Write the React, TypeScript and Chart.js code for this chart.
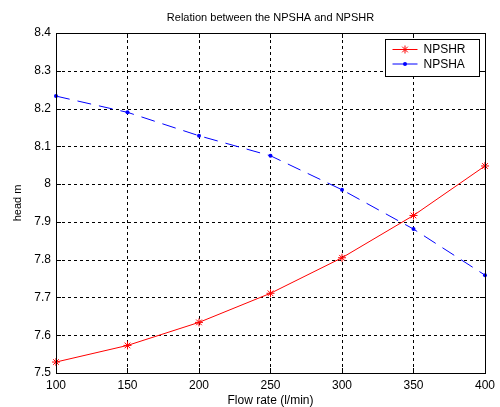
import React, { useEffect, useRef } from "react";
import { Chart, registerables } from "chart.js";

Chart.register(...registerables);

const flowRates = [100, 150, 200, 250, 300, 350, 400];
const npshr = [7.529, 7.573, 7.634, 7.711, 7.805, 7.917, 8.048];
const npsha = [8.233, 8.19, 8.128, 8.075, 7.985, 7.881, 7.759];
const seriesNames = ["NPSHR", "NPSHA"];
const titleText = "Relation between the NPSHA and NPSHR";
const xTitle = "Flow rate (l/min)";
const yTitle = "head m";

const FONT = "'Liberation Sans', Arial, sans-serif";

const gridPlugin = {
  id: "dashgrid",
  beforeDatasetsDraw(chart: any) {
    const { ctx, chartArea: a, scales } = chart;
    ctx.save();
    ctx.strokeStyle = "#000";
    ctx.lineWidth = 1;
    ctx.setLineDash([3, 3]);
    scales.x.ticks.forEach((t: any) => {
      const px = Math.round(scales.x.getPixelForValue(t.value)) + 0.5;
      ctx.beginPath();
      ctx.moveTo(px, a.bottom);
      ctx.lineTo(px, a.top);
      ctx.stroke();
    });
    scales.y.ticks.forEach((t: any) => {
      const py = Math.round(scales.y.getPixelForValue(t.value)) + 0.5;
      ctx.beginPath();
      ctx.moveTo(a.left, py);
      ctx.lineTo(a.right, py);
      ctx.stroke();
    });
    ctx.restore();
  },
};

const framePlugin = {
  id: "frame",
  afterDatasetsDraw(chart: any) {
    const { ctx, chartArea: a, scales } = chart;
    ctx.save();
    ctx.strokeStyle = "#000";
    ctx.lineWidth = 1;
    ctx.setLineDash([]);
    ctx.strokeRect(Math.round(a.left) + 0.5, Math.round(a.top) + 0.5, Math.round(a.right - a.left), Math.round(a.bottom - a.top));
    const tl = 5;
    scales.x.ticks.forEach((t: any) => {
      const px = Math.round(scales.x.getPixelForValue(t.value)) + 0.5;
      ctx.beginPath();
      ctx.moveTo(px, a.bottom);
      ctx.lineTo(px, a.bottom - tl);
      ctx.moveTo(px, a.top);
      ctx.lineTo(px, a.top + tl);
      ctx.stroke();
    });
    scales.y.ticks.forEach((t: any) => {
      const py = Math.round(scales.y.getPixelForValue(t.value)) + 0.5;
      ctx.beginPath();
      ctx.moveTo(a.left, py);
      ctx.lineTo(a.left + tl, py);
      ctx.moveTo(a.right, py);
      ctx.lineTo(a.right - tl, py);
      ctx.stroke();
    });
    ctx.fillStyle = "#000";
    ctx.font = `11px ${FONT}`;
    ctx.textAlign = "center";
    ctx.textBaseline = "middle";
    const cx = (a.left + a.right) / 2;
    ctx.fillText(titleText, cx, 18);
    ctx.font = `12px ${FONT}`;
    ctx.fillText(xTitle, cx, 401);
    ctx.save();
    ctx.translate(18, (a.top + a.bottom) / 2);
    ctx.rotate(-Math.PI / 2);
    ctx.font = `11px ${FONT}`;
    ctx.fillText(yTitle, 0, 0);
    ctx.restore();

    const lx = Math.round(a.right) - 100 + 0.5;
    const ly = Math.round(a.top) + 6 + 0.5;
    const lw = 94;
    const lh = 37;
    ctx.fillStyle = "#fff";
    ctx.fillRect(lx, ly, lw, lh);
    ctx.strokeStyle = "#000";
    ctx.strokeRect(lx, ly, lw, lh);
    chart.data.datasets.forEach((ds: any, i: number) => {
      const y = ly + 10 + i * 14.5;
      const x0 = lx + 7;
      const x1 = lx + 32;
      ctx.strokeStyle = ds.borderColor;
      ctx.lineWidth = 1;
      ctx.setLineDash([]);
      ctx.beginPath();
      ctx.moveTo(x0, y);
      ctx.lineTo(x1, y);
      ctx.stroke();
      const mx = (x0 + x1) / 2;
      if (ds.pointStyle === "star") {
        const r = 4;
        ctx.beginPath();
        ctx.moveTo(mx - r, y);
        ctx.lineTo(mx + r, y);
        ctx.moveTo(mx, y - r);
        ctx.lineTo(mx, y + r);
        const d = r * 0.707;
        ctx.moveTo(mx - d, y - d);
        ctx.lineTo(mx + d, y + d);
        ctx.moveTo(mx - d, y + d);
        ctx.lineTo(mx + d, y - d);
        ctx.stroke();
      } else {
        ctx.fillStyle = ds.borderColor;
        ctx.beginPath();
        ctx.arc(mx, y, 2, 0, Math.PI * 2);
        ctx.fill();
      }
      ctx.fillStyle = "#000";
      ctx.font = `12px ${FONT}`;
      ctx.textAlign = "left";
      ctx.textBaseline = "middle";
      ctx.fillText(ds.label, lx + 38, y + 0.5);
    });
    ctx.restore();
  },
};

export default function App() {
  const ref = useRef<HTMLCanvasElement | null>(null);
  useEffect(() => {
    document.body.style.margin = "0";
    const canvas = ref.current!;
    const chart = new Chart(canvas, {
      type: "line",
      data: {
        datasets: [
          {
            label: seriesNames[0],
            data: flowRates.map((x, i) => ({ x, y: npshr[i] })),
            borderColor: "#ff0000",
            backgroundColor: "#ff0000",
            borderWidth: 1,
            pointStyle: "star",
            pointRadius: 4,
            pointBorderWidth: 1,
            pointBorderColor: "#ff0000",
            fill: false,
            tension: 0,
            clip: false as any,
          },
          {
            label: seriesNames[1],
            data: flowRates.map((x, i) => ({ x, y: npsha[i] })),
            borderColor: "#0000ff",
            backgroundColor: "#0000ff",
            borderWidth: 1,
            borderDash: [14, 8],
            pointStyle: "circle",
            pointRadius: 2,
            pointBorderWidth: 0,
            fill: false,
            tension: 0,
            clip: false as any,
          },
        ],
      },
      options: {
        animation: false,
        responsive: false,
        maintainAspectRatio: false,
        layout: { padding: { top: 33, right: 13, left: 0, bottom: 0 } },
        plugins: {
          legend: { display: false },
          title: { display: false },
          tooltip: { enabled: false },
        },
        scales: {
          x: {
            type: "linear",
            min: 100,
            max: 400,
            afterFit: (s: any) => {
              s.height = 34;
            },
            ticks: {
              stepSize: 50,
              color: "#000",
              padding: 5,
              font: { family: FONT, size: 12 },
              maxRotation: 0,
            },
            grid: { display: false, drawTicks: false },
            border: { display: false },
          } as any,
          y: {
            type: "linear",
            min: 7.5,
            max: 8.4,
            afterFit: (s: any) => {
              s.width = 56;
            },
            ticks: {
              stepSize: 0.1,
              color: "#000",
              padding: 5,
              font: { family: FONT, size: 12 },
              callback: (v: any) => {
                const n = Math.round(Number(v) * 10) / 10;
                return n === 8 ? "8" : String(n);
              },
            },
            grid: { display: false, drawTicks: false },
            border: { display: false },
          } as any,
        },
      },
      plugins: [gridPlugin, framePlugin],
    });
    return () => chart.destroy();
  }, []);
  return (
    <div style={{ width: 500, height: 407, background: "#fff" }}>
      <canvas ref={ref} width={500} height={407} style={{ display: "block" }} />
    </div>
  );
}
